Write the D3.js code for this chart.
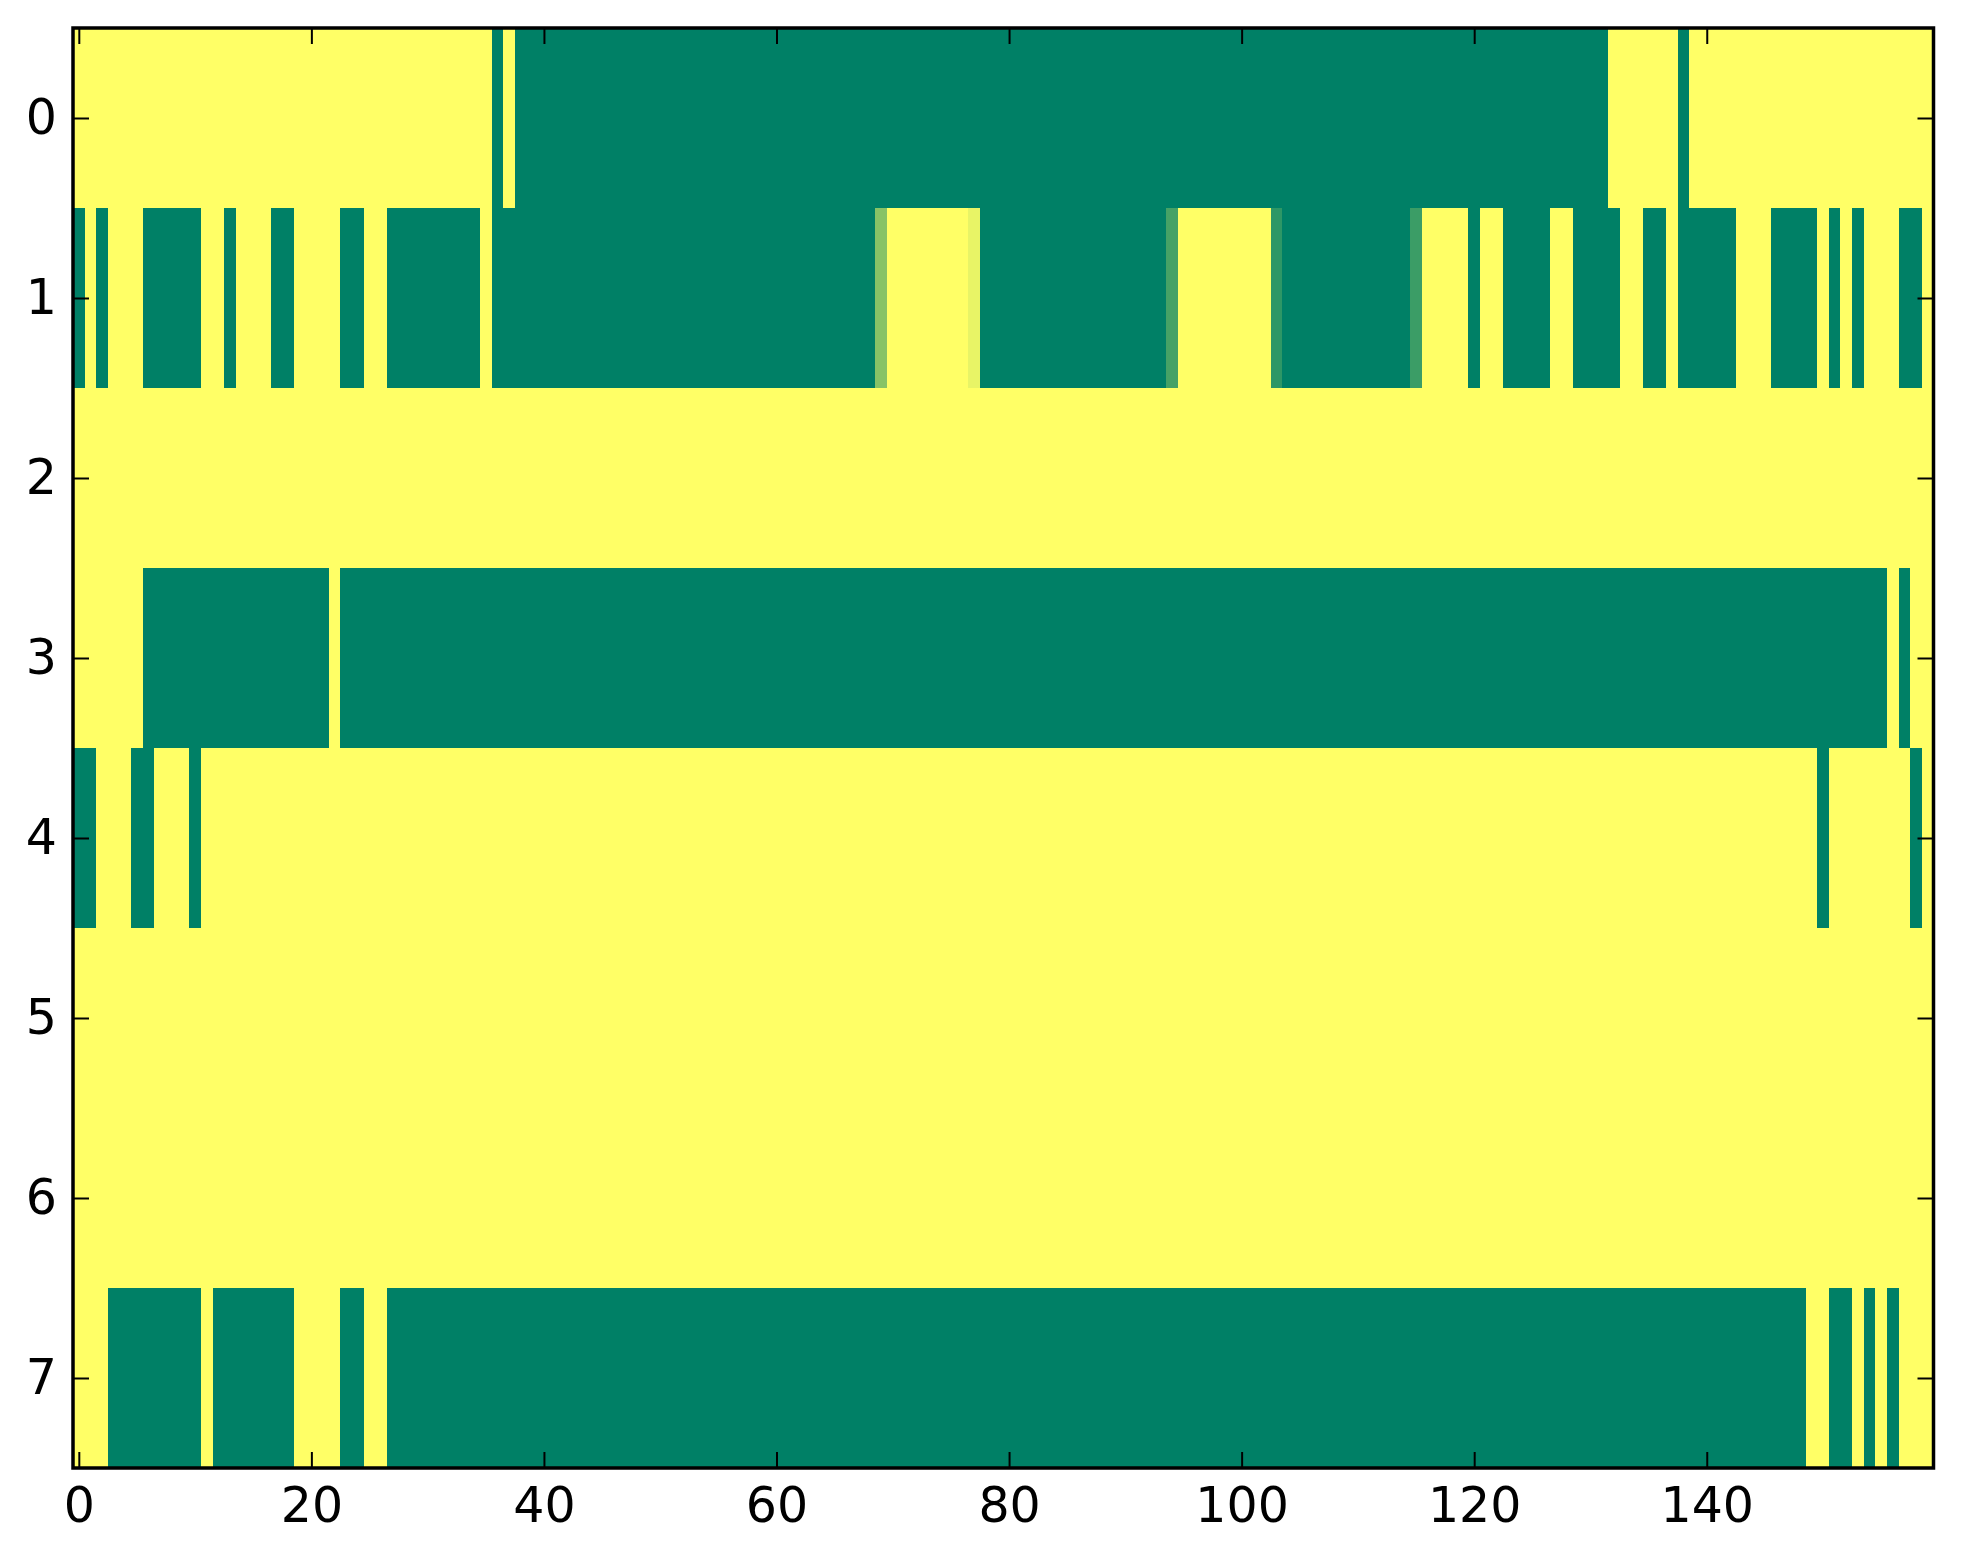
<!DOCTYPE html>
<html>
<head>
<meta charset="utf-8">
<script src="https://cdn.jsdelivr.net/npm/d3@7"></script>
<style>
  body { margin: 0; background: #ffffff; }
  svg { display: block; }
  .tick text { font-family: "DejaVu Sans", sans-serif; font-size: 49px; fill: #000; }
  .tick line { stroke: #000; stroke-width: 2px; }
</style>
</head>
<body>
<svg id="chart"></svg>
<script>
// one array per image row, 160 columns each (0 = green end, 1 = yellow end of the map)
const row0 = [
  1,1,1,1,1,1,1,1,1,1,1,1,1,1,1,1,1,1,1,1,
  1,1,1,1,1,1,1,1,1,1,1,1,1,1,1,1,0,1,0,0,
  0,0,0,0,0,0,0,0,0,0,0,0,0,0,0,0,0,0,0,0,
  0,0,0,0,0,0,0,0,0,0,0,0,0,0,0,0,0,0,0,0,
  0,0,0,0,0,0,0,0,0,0,0,0,0,0,0,0,0,0,0,0,
  0,0,0,0,0,0,0,0,0,0,0,0,0,0,0,0,0,0,0,0,
  0,0,0,0,0,0,0,0,0,0,0,0,1,1,1,1,1,1,0,1,
  1,1,1,1,1,1,1,1,1,1,1,1,1,1,1,1,1,1,1,1
];
const row1 = [
  0,1,0,1,1,1,0,0,0,0,0,1,1,0,1,1,1,0,0,1,
  1,1,1,0,0,1,1,0,0,0,0,0,0,0,0,1,0,0,0,0,
  0,0,0,0,0,0,0,0,0,0,0,0,0,0,0,0,0,0,0,0,
  0,0,0,0,0,0,0,0,0,0.53,1,1,1,1,1,1,1,0.91,0,0,
  0,0,0,0,0,0,0,0,0,0,0,0,0,0,0.27,1,1,1,1,1,
  1,1,1,0.18,0,0,0,0,0,0,0,0,0,0,0,0.23,1,1,1,1,
  0,1,1,0,0,0,0,1,1,0,0,0,0,1,1,0,0,1,0,0,
  0,0,0,1,1,1,0,0,0,0,1,0,1,0,1,1,1,0,0,1
];
const row2 = [
  1,1,1,1,1,1,1,1,1,1,1,1,1,1,1,1,1,1,1,1,
  1,1,1,1,1,1,1,1,1,1,1,1,1,1,1,1,1,1,1,1,
  1,1,1,1,1,1,1,1,1,1,1,1,1,1,1,1,1,1,1,1,
  1,1,1,1,1,1,1,1,1,1,1,1,1,1,1,1,1,1,1,1,
  1,1,1,1,1,1,1,1,1,1,1,1,1,1,1,1,1,1,1,1,
  1,1,1,1,1,1,1,1,1,1,1,1,1,1,1,1,1,1,1,1,
  1,1,1,1,1,1,1,1,1,1,1,1,1,1,1,1,1,1,1,1,
  1,1,1,1,1,1,1,1,1,1,1,1,1,1,1,1,1,1,1,1
];
const row3 = [
  1,1,1,1,1,1,0,0,0,0,0,0,0,0,0,0,0,0,0,0,
  0,0,1,0,0,0,0,0,0,0,0,0,0,0,0,0,0,0,0,0,
  0,0,0,0,0,0,0,0,0,0,0,0,0,0,0,0,0,0,0,0,
  0,0,0,0,0,0,0,0,0,0,0,0,0,0,0,0,0,0,0,0,
  0,0,0,0,0,0,0,0,0,0,0,0,0,0,0,0,0,0,0,0,
  0,0,0,0,0,0,0,0,0,0,0,0,0,0,0,0,0,0,0,0,
  0,0,0,0,0,0,0,0,0,0,0,0,0,0,0,0,0,0,0,0,
  0,0,0,0,0,0,0,0,0,0,0,0,0,0,0,0,1,0,1,1
];
const row4 = [
  0,0,1,1,1,0,0,1,1,1,0,1,1,1,1,1,1,1,1,1,
  1,1,1,1,1,1,1,1,1,1,1,1,1,1,1,1,1,1,1,1,
  1,1,1,1,1,1,1,1,1,1,1,1,1,1,1,1,1,1,1,1,
  1,1,1,1,1,1,1,1,1,1,1,1,1,1,1,1,1,1,1,1,
  1,1,1,1,1,1,1,1,1,1,1,1,1,1,1,1,1,1,1,1,
  1,1,1,1,1,1,1,1,1,1,1,1,1,1,1,1,1,1,1,1,
  1,1,1,1,1,1,1,1,1,1,1,1,1,1,1,1,1,1,1,1,
  1,1,1,1,1,1,1,1,1,1,0,1,1,1,1,1,1,1,0,1
];
const row5 = row2.slice();
const row6 = row2.slice();
const row7 = [
  1,1,1,0,0,0,0,0,0,0,0,1,0,0,0,0,0,0,0,1,
  1,1,1,0,0,1,1,0,0,0,0,0,0,0,0,0,0,0,0,0,
  0,0,0,0,0,0,0,0,0,0,0,0,0,0,0,0,0,0,0,0,
  0,0,0,0,0,0,0,0,0,0,0,0,0,0,0,0,0,0,0,0,
  0,0,0,0,0,0,0,0,0,0,0,0,0,0,0,0,0,0,0,0,
  0,0,0,0,0,0,0,0,0,0,0,0,0,0,0,0,0,0,0,0,
  0,0,0,0,0,0,0,0,0,0,0,0,0,0,0,0,0,0,0,0,
  0,0,0,0,0,0,0,0,0,1,1,0,0,1,0,1,0,1,1,1
];

const xTicks = [0, 20, 40, 60, 80, 100, 120, 140];
const yTicks = [0, 1, 2, 3, 4, 5, 6, 7];

const rows = [row0, row1, row2, row3, row4, row5, row6, row7];
const nCols = row0.length;

const WIDTH = 1963;
const HEIGHT = 1564;
const PLOT = {left: 73, top: 28, right: 1933.5, bottom: 1468};

const svg = d3.select('#chart')
  .attr('width', WIDTH)
  .attr('height', HEIGHT);

svg.append('rect')
  .attr('width', WIDTH)
  .attr('height', HEIGHT)
  .attr('fill', '#ffffff');

const x = d3.scaleLinear().domain([-0.5, nCols - 0.5]).range([PLOT.left, PLOT.right]);
const y = d3.scaleLinear().domain([-0.5, rows.length - 0.5]).range([PLOT.top, PLOT.bottom]);
// matplotlib "summer": (v, 0.5 + 0.5v, 0.4)
const color = d3.scaleLinear().domain([0, 1]).range(['#008066', '#ffff66']);

const cells = [];
rows.forEach((r, i) => r.forEach((v, j) => cells.push({row: i, col: j, value: v})));

svg.append('g')
  .selectAll('rect')
  .data(cells)
  .enter()
  .append('rect')
  .attr('x', d => x(d.col - 0.5))
  .attr('y', d => y(d.row - 0.5))
  .attr('width', d => x(d.col + 0.5) - x(d.col - 0.5) + 0.5)
  .attr('height', d => y(d.row + 0.5) - y(d.row - 0.5) + 0.5)
  .attr('fill', d => color(d.value))
  .attr('shape-rendering', 'crispEdges');

// ticks point inward on all four sides
const TICK = 16;

svg.append('g')
  .attr('transform', `translate(0, ${PLOT.bottom})`)
  .call(d3.axisBottom(x).tickValues(xTicks).tickSizeInner(-TICK).tickSizeOuter(0).tickPadding(19))
  .call(g => g.select('.domain').remove());

svg.append('g')
  .attr('transform', `translate(0, ${PLOT.top})`)
  .call(d3.axisTop(x).tickValues(xTicks).tickSizeInner(-TICK).tickSizeOuter(0).tickFormat(''))
  .call(g => g.select('.domain').remove());

svg.append('g')
  .attr('transform', `translate(${PLOT.left}, 0)`)
  .call(d3.axisLeft(y).tickValues(yTicks).tickSizeInner(-TICK).tickSizeOuter(0).tickPadding(16))
  .call(g => g.select('.domain').remove());

svg.append('g')
  .attr('transform', `translate(${PLOT.right}, 0)`)
  .call(d3.axisRight(y).tickValues(yTicks).tickSizeInner(-TICK).tickSizeOuter(0).tickFormat(''))
  .call(g => g.select('.domain').remove());

svg.selectAll('.tick text').attr('fill', '#000');

// frame
svg.append('rect')
  .attr('x', PLOT.left)
  .attr('y', PLOT.top)
  .attr('width', PLOT.right - PLOT.left)
  .attr('height', PLOT.bottom - PLOT.top)
  .attr('fill', 'none')
  .attr('stroke', '#000')
  .attr('stroke-width', 3.5);
</script>
</body>
</html>
